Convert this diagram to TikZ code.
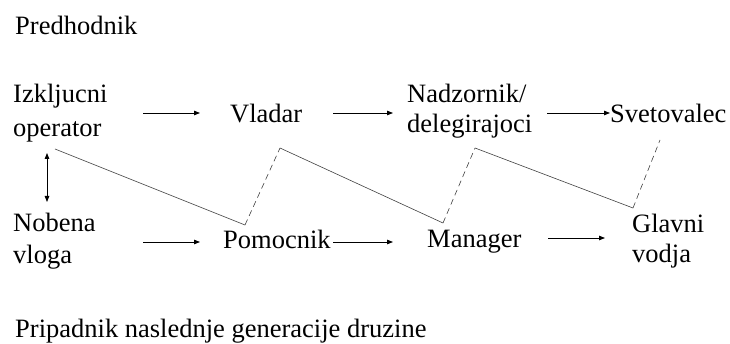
\documentclass[tikz,border=0pt]{standalone}
\usepackage{fontspec}
\setmainfont{Liberation Serif}
\usetikzlibrary{arrows.meta}
\begin{document}
\begin{tikzpicture}[x=1pt,y=-1pt,
  lbl/.style={anchor=base west,inner sep=0pt,align=left,font=\fontsize{26.5}{33}\selectfont},
  flow/.style={draw=black,line width=0.8pt,-{Triangle[length=6pt,width=4.5pt]}},
  both/.style={draw=black,line width=0.8pt,{Triangle[length=6pt,width=4.5pt]}-{Triangle[length=6pt,width=4.5pt]}},
  zig/.style={draw=black!75,line width=0.6pt},
  zigd/.style={draw=black!75,line width=0.6pt,dash pattern=on 6pt off 4pt}]
\useasboundingbox (0,0) rectangle (730,344);
\node[lbl] (pred) at (15,35) {Predhodnik};
\node[lbl] (izk) at (13,137) {Izkljucni\\[1pt]operator};
\node[lbl] (vla) at (230,123) {Vladar};
\node[lbl] (nad) at (407,133) {Nadzornik/\\[-3pt]delegirajoci};
\node[lbl] (sve) at (610,123) {Svetovalec};
\node[lbl] (nob) at (13,264) {Nobena\\[-1pt]vloga};
\node[lbl] (pom) at (223,249) {Pomocnik};
\node[lbl] (man) at (427,248) {Manager};
\node[lbl] (gla) at (632,263) {Glavni\\[-3pt]vodja};
\node[lbl] (pri) at (15,337) {Pripadnik naslednje generacije druzine};
% arrow end points
\coordinate (a1s) at (143,113); \coordinate (a1e) at (200,113);
\coordinate (a2s) at (333,113); \coordinate (a2e) at (393,113);
\coordinate (a3s) at (547,113); \coordinate (a3e) at (610,113);
\coordinate (a4s) at (143,242); \coordinate (a4e) at (200,242);
\coordinate (a5s) at (333,242); \coordinate (a5e) at (393,242);
\coordinate (a6s) at (548,238); \coordinate (a6e) at (605,238);
\coordinate (ds) at (47,153); \coordinate (de) at (47,202);
\draw[flow] (a1s) -- (a1e);
\draw[flow] (a2s) -- (a2e);
\draw[flow] (a3s) -- (a3e);
\draw[flow] (a4s) -- (a4e);
\draw[flow] (a5s) -- (a5e);
\draw[flow] (a6s) -- (a6e);
\draw[both] (ds) -- (de);
% zigzag
\coordinate (z1) at (55,149);
\coordinate (z2) at (245,225);
\coordinate (z3) at (280,148);
\coordinate (z4) at (443,223);
\coordinate (z5) at (475,148);
\coordinate (z6) at (633,208);
\coordinate (z7) at (660,140);
\draw[zig] (z1) -- (z2);
\draw[zigd] (z2) -- (z3);
\draw[zig] (z3) -- (z4);
\draw[zigd] (z4) -- (z5);
\draw[zig] (z5) -- (z6);
\draw[zigd] (z6) -- (z7);
\end{tikzpicture}
\end{document}
